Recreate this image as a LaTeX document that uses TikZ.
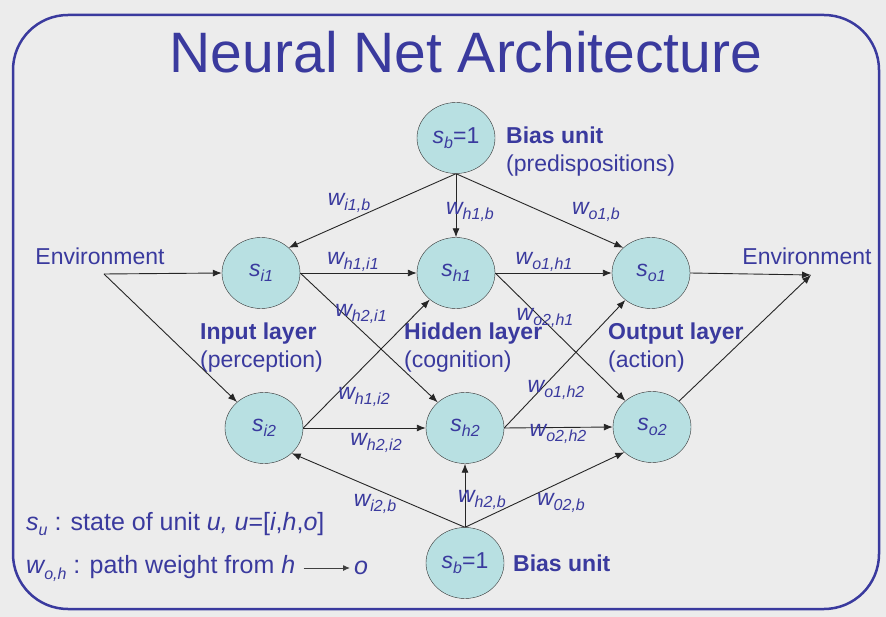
\documentclass[tikz,border=0pt]{standalone}
\usepackage{fontspec}
\setmainfont{Liberation Sans}
\usepackage{tikz}
\usetikzlibrary{arrows.meta,shapes,positioning}
\definecolor{netblue}{RGB}{58,58,158}
\definecolor{unitfill}{RGB}{184,224,226}
\definecolor{slide}{RGB}{236,236,236}
\newcommand{\lowsub}[1]{\raisebox{-0.45ex}{\fontsize{16}{16}\selectfont #1}}
\newcommand{\wt}[1]{\textit{w\lowsub{#1}}}
\tikzset{
    unit/.style={
        ellipse,
        draw=black!80,
        fill=unitfill,
        minimum width=78pt,
        minimum height=71pt,
        inner sep=0pt,
        text=netblue,
        font=\fontsize{23}{28}\selectfont,
    },
    plain/.style={
        text=netblue,
        inner sep=0pt,
        font=\fontsize{23}{28}\selectfont,
    },
    layer/.style={
        plain,
        anchor=west,
        align=left,
    },
    legend/.style={
        layer,
        font=\fontsize{25}{30}\selectfont,
    },
    wlabel/.style={
        plain,
    },
    frame/.style={
        draw=netblue,
        line width=2.5pt,
        rounded corners=55pt,
    },
    every edge/.style={
        draw,
        -{Latex[length=9pt,width=7pt]},
        line width=0.9pt,
        black!85,
    },
    node distance=195pt,
}
\begin{document}
\begin{tikzpicture}[x=1pt,y=-1pt]
\fill[slide] (0,0) rectangle (886,617);
\useasboundingbox (0,0) rectangle (886,617);
\draw[frame] (13,15) rectangle (879,609);
\node[plain,font=\fontsize{57}{60}\selectfont] (title) at (466,52) {Neural Net Architecture};

% units
\node[unit] (bt) at (456,138) {\textit{s\lowsub{b}}=1};
\node[unit] (si1) at (261,273) {\textit{s\lowsub{i1}}};
\node[unit,right of=si1] (sh1) {\textit{s\lowsub{h1}}};
\node[unit,right of=sh1] (so1) {\textit{s\lowsub{o1}}};
\node[unit] (si2) at (264,428) {\textit{s\lowsub{i2}}};
\node[unit] (sh2) at (465,428) {\textit{s\lowsub{h2}}};
\node[unit] (so2) at (652,427) {\textit{s\lowsub{o2}}};
\node[unit] (bb) at (465,563) {\textit{s\lowsub{b}}=1};

% environment
\node[plain] (envl) at (100,256) {Environment};
\coordinate (envL) at (104,274);
\node[plain] (envr) at (807,256) {Environment};
\coordinate (envR) at (811,275);

% layer texts
\node[layer] (btlab) at (506,152) {\textbf{Bias unit}\\(predispositions)};
\node[layer] (inlab) at (200,348) {\textbf{Input layer}\\(perception)};
\node[layer] (hilab) at (404,348) {\textbf{Hidden layer}\\(cognition)};
\node[layer] (oulab) at (608,348) {\textbf{Output layer}\\(action)};
\node[layer] (bblab) at (513,563) {\textbf{Bias unit}};

% connections
\draw (envL) edge (si1.west);
\draw (envL) edge (si2);
\draw (si1.east) edge (sh1.west);
\draw (si1.east) edge (sh2);
\draw (si2.east) edge (sh1);
\draw (si2.east) edge (sh2.west);
\draw (sh1.east) edge (so1.west);
\draw (sh1.east) edge (so2);
\draw (sh2.east) edge (so1);
\draw (sh2.east) edge (so2.west);
\draw (so1.east) edge (envR);
\draw (so2) edge (envR);
\draw (bt.south) edge (si1.north east);
\draw (bt.south) edge (sh1.north);
\draw (bt.south) edge (so1.north west);
\draw (bb.north) edge (si2.south east);
\draw (bb.north) edge (sh2.south);
\draw (bb.north) edge (so2.south west);

% weights
\node[wlabel] (wi1b) at (349,203) {\wt{i1,b}};
\node[wlabel] (wh1b) at (470,212) {\wt{h1,b}};
\node[wlabel] (wo1b) at (596,212) {\wt{o1,b}};
\node[wlabel] (wh1i1) at (353,262) {\wt{h1,i1}};
\node[wlabel] (wo1h1) at (544,262) {\wt{o1,h1}};
\node[wlabel] (wh2i1) at (361,314) {\wt{h2,i1}};
\node[wlabel] (wo2h1) at (545,318) {\wt{o2,h1}};
\node[wlabel] (wh1i2) at (364,397) {\wt{h1,i2}};
\node[wlabel] (wh2i2) at (376,443) {\wt{h2,i2}};
\node[wlabel] (wo1h2) at (556,390) {\wt{o1,h2}};
\node[wlabel] (wo2h2) at (558,434) {\wt{o2,h2}};
\node[wlabel] (wi2b) at (375,504) {\wt{i2,b}};
\node[wlabel] (wh2b) at (482,500) {\wt{h2,b}};
\node[wlabel] (w02b) at (561,503) {\wt{02,b}};

% legend
\node[legend] (legs) at (26,524) {\textit{s\lowsub{u}} : state of unit \textit{u, u}=[\textit{i},\textit{h},\textit{o}]};
\node[legend] (legw) at (26,568) {\textit{w\lowsub{o,h}} : path weight from \textit{h}};
\node[legend] (lego) at (354,568) {\textit{o}};
\draw[-{Latex[length=7pt,width=6pt]},line width=1pt,black!75,shorten <=8pt,shorten >=4pt] (legw.east) -- (lego.west);
\end{tikzpicture}
\end{document}
